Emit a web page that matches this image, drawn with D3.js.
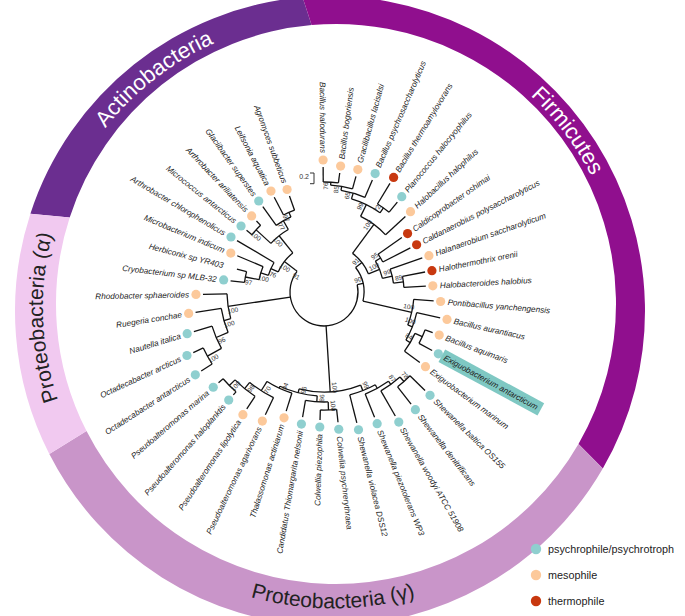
<!DOCTYPE html>
<html><head><meta charset="utf-8">
<script src="https://cdn.jsdelivr.net/npm/d3@7"></script>
<style>body{margin:0;background:#fff} svg{display:block}</style>
</head><body>
<svg id="c" width="685" height="616"></svg>
<script>
// ---------------- data ----------------
const species = [
 "Bacillus halodurans","Bacillus bogoriensis","Gracilibacillus lacisalsi","Bacillus psychrosaccharolyticus",
 "Bacillus thermoamylovorans","Planococcus halocryophilus","Halobacillus halophilus","Caldicoprobacter oshimai",
 "Caldanaerobius polysaccharolyticus","Halanaerobium saccharolyticum","Halothermothrix orenii","Halobacteroides halobius",
 "Pontibacillus yanchengensis","Bacillus aurantiacus","Bacillus aquimaris","Exiguobacterium antarcticum",
 "Exiguobacterium marinum","Shewanella baltica OS155","Shewanella denitrificans","Shewanella woodyi ATCC 51908",
 "Shewanella piezotolerans WP3","Shewanella violacea DSS12","Colwellia psychrerythraea","Colwellia piezophila",
 "Candidatus Thiomargarita nelsonii","Thalassomonas actiniarum","Pseudoalteromonas agarivorans","Pseudoalteromonas lipolytica",
 "Pseudoalteromonas haloplanktis","Pseudoalteromonas marina","Octadecabacter antarcticus","Octadecabacter arcticus",
 "Nautella italica","Ruegeria conchae","Rhodobacter sphaeroides","Cryobacterium sp MLB-32",
 "Herbiconix sp YR403","Microbacterium indicum","Arthrobacter chlorophenolicus","Micrococcus antarcticus",
 "Arthrobacter ariliatensis","Glaciibacter superstes","Leifsonia aquatica","Agromyces subbeticus"
];
// P = psychrophile/psychrotroph, M = mesophile, T = thermophile, "" = none
const habitat = [
 "M","M","M","P","T","P","M","T","T","M","T","M","M","M","M","P","M",
 "P","P","P","P","P","P","P","P","M","M","M","P","P",
 "P","P","P","M","M",
 "P","","M","P","P","M","P","M","M"
];
// tree topology, branch lengths (substitutions/site) and bootstrap support
const newick =
"(((((((((Bacillus_halodurans:0.280,Bacillus_bogoriensis:0.187)76:0.056,Gracilibacillus_lacisalsi:0.243)85:0.075,Bacillus_psychrosaccharolyticus:0.355)65:0.112," +
"(Bacillus_thermoamylovorans:0.449,Planococcus_halocryophilus:0.243)72:0.112)99:0.243,Halobacillus_halophilus:0.505)100:0.673," +
"((Caldicoprobacter_oshimai:0.542,Caldanaerobius_polysaccharolyticus:0.579)95:0.112,(Halanaerobium_saccharolyticum:0.636,(Halothermothrix_orenii:0.430,Halobacteroides_halobius:0.411)89:0.187)99:0.187)100:0.224)91:0.150," +
"(Pontibacillus_yanchengensis:0.374,(Bacillus_aurantiacus:0.449,((Bacillus_aquimaris:0.150,Exiguobacterium_antarcticum:0.280):0.150,Exiguobacterium_marinum:0.355)84:0.093)100:0.093)100:0.935)90:0.112," +
"(((((Shewanella_baltica_OS155:0.393,Shewanella_denitrificans:0.411)78:0.112,Shewanella_woodyi_ATCC_51908:0.542)87:0.075,Shewanella_piezotolerans_WP3:0.467):0.075,Shewanella_violacea_DSS12:0.542)99:0.112," +
"(((Colwellia_psychrerythraea:0.243,Colwellia_piezophila:0.187)100:0.150,Candidatus_Thiomargarita_nelsonii:0.318)86:0.112," +
"(Thalassomonas_actiniarum:0.355,(Pseudoalteromonas_agarivorans:0.355,(Pseudoalteromonas_lipolytica:0.280,(Pseudoalteromonas_haloplanktis:0.075,Pseudoalteromonas_marina:0.112)100:0.150)98:0.150)70:0.206)94:0.037)96:0.075)100:1.234," +
"((((Octadecabacter_antarcticus:0.243,Octadecabacter_arcticus:0.206)100:0.299,Nautella_italica:0.355)96:0.243,Ruegeria_conchae:0.486)100:0.131,Rhodobacter_sphaeroides:0.449)100:1.178," +
"((((((Cryobacterium_sp_MLB-32:0.262,Herbiconix_sp_YR403:0.187)97:0.262,Microbacterium_indicum:0.523)100:0.150,Arthrobacter_chlorophenolicus:0.804)76:0.150," +
"((Micrococcus_antarcticus:0.131,Arthrobacter_ariliatensis:0.112)100:0.374,(Glaciibacter_superstes:0.430,(Leifsonia_aquatica:0.374,Agromyces_subbeticus:0.280)97:0.093)77:0.187)100:0.411)100:0.262)91:0.037);";

const habitatCodes  = ["P","M","T"];
const habitatLabels = ["psychrophile/psychrotroph","mesophile","thermophile"];
const phyla      = ["Actinobacteria","Firmicutes","Proteobacteria (γ)","Proteobacteria (α)"];
const phylaStart = [288, 355, 120, 243];   // degrees clockwise from north
const phylaEnd   = [355, 480, 243, 288];
const phylaMid   = [322, 53, 180, 268];
const highlighted = ["Exiguobacterium antarcticum"];
const scaleBarValue = 0.2;

// ---------------- layout ----------------
const svg = d3.select("#c");
const cx = 324, cy = 292;
const rad = Math.PI/180;
// outer ring: outer and inner boundary circles (not concentric, as in the figure)
const ringOut = {x:330, y:311, r:315};
const ringIn  = {x:336, y:304, r:280};
const ringMid = {x:(ringOut.x+ringIn.x)/2, y:(ringOut.y+ringIn.y)/2, r:(ringOut.r+ringIn.r)/2};

const habitatColor = d3.scaleOrdinal().domain(habitatCodes).range(["#8fcfcf","#fcc99b","#c8380f"]);
const phylaColor = d3.scaleOrdinal().domain(phyla).range(["#6b2e90","#900f8e","#c995c9","#f1c9f0"]);
const phylaText  = d3.scaleOrdinal().domain(phyla).range(["#fff","#fff","#222","#222"]);
const phylaFont  = d3.scaleOrdinal().domain(phyla).range([22,22,21,21]);

function parseNewick(s){
  let i=0;
  function node(){
    const n={};
    if(s[i]==='('){ i++; n.children=[node()]; while(s[i]===','){ i++; n.children.push(node()); } i++; }
    let name=''; while(i<s.length && !',():;'.includes(s[i])) name+=s[i++];
    n.name=name.replace(/_/g,' ');
    n.length=0;
    if(s[i]===':'){ i++; let l=''; while(i<s.length && !',();'.includes(s[i])) l+=s[i++]; n.length=+l; }
    return n;
  }
  return node();
}

const root = d3.hierarchy(parseNewick(newick));
root.eachBefore(d => { d.len = (d.parent ? d.parent.len : 0) + d.data.length; });
const leaves = root.leaves();
const angle = d3.scaleLinear().domain([0, species.length-1]).range([-0.4, 340.2]);
const rScale = d3.scaleLinear().domain([0, 1]).range([34, 87.5]);
leaves.forEach(l => { l.idx = species.indexOf(l.data.name); l.angle = angle(l.idx); });
root.eachAfter(d => { if(d.children){ d.angle = (d.children[0].angle + d.children[d.children.length-1].angle)/2; } });
root.each(d => d.r = rScale(d.len));

const P = (r,a) => [cx + r*Math.sin(a*rad), cy - r*Math.cos(a*rad)];
const PC = (c,r,a) => [c.x + r*Math.sin(a*rad), c.y - r*Math.cos(a*rad)];

// ---------------- ring ----------------
phyla.forEach((p,i)=>{
  const a0 = phylaStart[i], a1 = phylaEnd[i];
  const large = (a1-a0) > 180 ? 1 : 0;
  const o0 = PC(ringOut, ringOut.r, a0), o1 = PC(ringOut, ringOut.r, a1);
  const i0 = PC(ringIn, ringIn.r, a0), i1 = PC(ringIn, ringIn.r, a1);
  const d = `M${o0}A${ringOut.r},${ringOut.r} 0 ${large} 1 ${o1}L${i1}A${ringIn.r},${ringIn.r} 0 ${large} 0 ${i0}Z`;
  svg.append("path").attr("d", d).attr("fill", phylaColor(p));
});
const defs = svg.append("defs");
phyla.forEach((p,i)=>{
  const m = phylaMid[i];
  const fs = phylaFont(p);
  const bottom = i===2;
  let d;
  if(!bottom){
    const r = ringMid.r - fs*0.35;
    const s = PC(ringMid, r, m-80), e = PC(ringMid, r, m+80);
    d = `M${s}A${r},${r} 0 0 1 ${e}`;
  } else {
    const r = ringMid.r + fs*0.35 - 4;
    const s = PC(ringMid, r, m+80), e = PC(ringMid, r, m-80);
    d = `M${s}A${r},${r} 0 0 0 ${e}`;
  }
  defs.append("path").attr("id","pp"+i).attr("d",d);
  svg.append("text").attr("font-family","Liberation Sans, Arial, sans-serif").attr("font-size",fs)
    .attr("fill",phylaText(p))
    .append("textPath").attr("href","#pp"+i).attr("startOffset","50%").attr("text-anchor","middle")
    .text(p);
});

// ---------------- tree ----------------
const tree = svg.append("g").attr("fill","none").attr("stroke","#111").attr("stroke-width",1.3);
root.descendants().forEach(d=>{
  if(d.parent){
    const [x0,y0]=P(d.parent.r,d.angle), [x1,y1]=P(d.r,d.angle);
    tree.append("path").attr("d",`M${x0},${y0}L${x1},${y1}`);
  }
  if(d.children && d.children.length>1){
    const a0 = d.children[0].angle, a1 = d.children[d.children.length-1].angle;
    const p = d3.path();
    p.arc(cx, cy, d.r, (a0-90)*rad, (a1-90)*rad, false);
    tree.append("path").attr("d", p.toString());
  }
});

// bootstrap values
const bs = svg.append("g").attr("font-family","Liberation Sans, Arial, sans-serif").attr("font-size",6.5).attr("fill","#333");
root.descendants().filter(d=>d.children && d.data.name).forEach(d=>{
  const off = -5/d.r/rad;
  const a = d.angle + off;
  const right = (a%360+360)%360 < 180;
  const t = `translate(${cx},${cy}) rotate(${a-90}) translate(${d.r-4},0)` + (right?"":" rotate(180)");
  bs.append("text").attr("transform",t).attr("text-anchor","middle").attr("dy","0.35em").text(d.data.name);
});

// leaves
const lg = svg.append("g");
leaves.forEach(l=>{
  const a = l.angle;
  const right = (a%360+360)%360 < 180;
  const code = habitat[l.idx];
  if(code){
    const [x,y]=P(l.r+7,a);
    lg.append("circle").attr("cx",x).attr("cy",y).attr("r",4.6).attr("fill",habitatColor(code));
  }
  const g = lg.append("g").attr("transform",`translate(${cx},${cy}) rotate(${a-90})`);
  const lr = l.r + 14;
  const txt = g.append("text")
    .attr("font-family","Liberation Sans, Arial, sans-serif").attr("font-size",8.2).attr("font-style","italic")
    .attr("fill","#222").attr("dy","0.35em")
    .attr("transform", right ? `translate(${lr},0)` : `translate(${lr},0) rotate(180)`)
    .attr("text-anchor", right ? "start" : "end")
    .text(l.data.name);
  if(highlighted.includes(l.data.name)){
    const w = txt.node().getComputedTextLength();
    g.insert("rect","text").attr("x",lr-3).attr("y",-7).attr("width",w+7).attr("height",14).attr("fill","#7fc8c3");
  }
});

// scale bar
const sb = svg.append("g").attr("stroke","#333").attr("stroke-width",1).attr("fill","none");
const sbLen = rScale(scaleBarValue)-rScale(0);
const sx = 314, sy = 173;
sb.append("path").attr("d",`M${sx-4},${sy}H${sx}V${sy+sbLen}H${sx-4}`);
svg.append("text").attr("x",sx-5).attr("y",sy+6).attr("text-anchor","end")
  .attr("font-family","Liberation Sans, Arial, sans-serif").attr("font-size",7).attr("fill","#333").text(scaleBarValue);

// legend
const leg = svg.append("g").attr("font-family","Liberation Sans, Arial, sans-serif").attr("font-size",10.8).attr("fill","#222");
habitatCodes.forEach((c,i)=>{
  const y = 549 + i*26;
  leg.append("circle").attr("cx",536).attr("cy",y).attr("r",5.2).attr("fill",habitatColor(c));
  leg.append("text").attr("x",548).attr("y",y+4).text(habitatLabels[i]);
});
</script>
</body></html>
